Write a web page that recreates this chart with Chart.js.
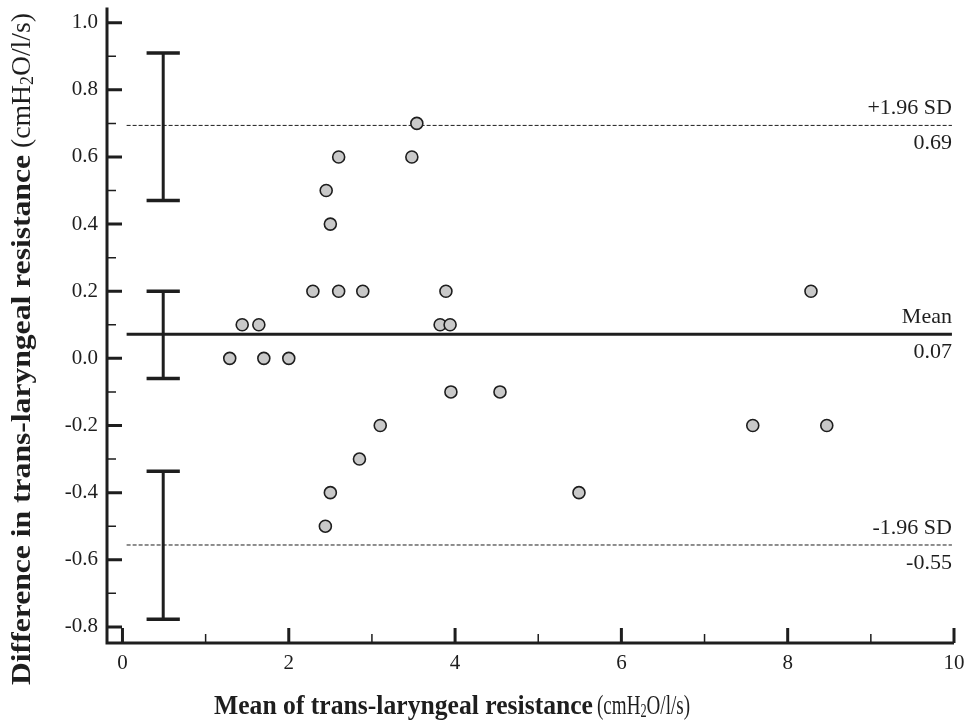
<!DOCTYPE html>
<html>
<head>
<meta charset="utf-8">
<script src="https://cdn.jsdelivr.net/npm/chart.js@4"></script>
<style>
  html, body { margin: 0; padding: 0; background: #fff; }
  #wrap { width: 969px; height: 721px; }
</style>
</head>
<body>
<div id="wrap"><canvas id="c" width="969" height="721"></canvas></div>
<script>
// ---- data ----
const meanX = [3.54, 2.60, 3.48, 2.45, 2.50, 2.29, 2.60, 2.89, 3.89, 1.44, 1.64, 3.82, 3.94,
               1.29, 1.70, 2.00, 3.95, 4.54, 3.10, 2.85, 2.50, 2.44, 5.49, 8.28, 7.58, 8.47];
const diffY = [0.70, 0.60, 0.60, 0.50, 0.40, 0.20, 0.20, 0.20, 0.20, 0.10, 0.10, 0.10, 0.10,
               0.00, 0.00, 0.00, -0.10, -0.10, -0.20, -0.30, -0.40, -0.50, -0.40, 0.20, -0.20, -0.20];

const xTicks = [0, 2, 4, 6, 8, 10];
const xMinorTicks = [1, 3, 5, 7, 9];
const yTicks = [-0.8, -0.6, -0.4, -0.2, 0.0, 0.2, 0.4, 0.6, 0.8, 1.0];
const yMinorTicks = [-0.7, -0.5, -0.3, -0.1, 0.1, 0.3, 0.5, 0.7, 0.9];

const biasValue = 0.072;
const upperLoA = 0.694;
const lowerLoA = -0.556;
const refLabels = { upper: ['+1.96 SD', '0.69'], mean: ['Mean', '0.07'], lower: ['-1.96 SD', '-0.55'] };

const ciX = 0.49;
const upperCI = [0.47, 0.91];
const meanCI = [-0.06, 0.20];
const lowerCI = [-0.777, -0.336];

const xRange = [-0.186, 10];
const yRange = [-0.848, 1.045];
const lineSpan = [0.05, 9.975];
const capHalf = 0.2;

const xTitleBold = 'Mean of trans-laryngeal resistance';
const yTitleBold = 'Difference in trans-laryngeal resistance';

// ---- build datasets ----
function ciStems() {
  const pts = [];
  [upperCI, meanCI, lowerCI].forEach(ci => {
    pts.push({x: ciX, y: ci[0]}, {x: ciX, y: ci[1]}, {x: ciX, y: null});
  });
  return pts;
}
function ciCaps() {
  const pts = [];
  [upperCI, meanCI, lowerCI].forEach(ci => {
    ci.forEach(v => pts.push({x: ciX - capHalf, y: v}, {x: ciX + capHalf, y: v}, {x: ciX, y: null}));
  });
  return pts;
}
const INK = '#1e1e1e';
const FONT = '"Liberation Serif", "Times New Roman", serif';

const axesPlugin = {
  id: 'axesPlugin',
  beforeDatasetsDraw(chart) {
    const {ctx, scales: {x, y}, chartArea: a} = chart;
    ctx.save();
    ctx.strokeStyle = INK;
    ctx.lineCap = 'butt';
    ctx.lineWidth = 3;
    ctx.beginPath();
    ctx.moveTo(a.left, a.top);
    ctx.lineTo(a.left, a.bottom + 1.5);
    ctx.moveTo(a.left - 1.5, a.bottom);
    ctx.lineTo(a.right, a.bottom);
    ctx.stroke();
    ctx.lineWidth = 3;
    ctx.beginPath();
    yTicks.forEach(v => { const p = y.getPixelForValue(v); ctx.moveTo(a.left, p); ctx.lineTo(a.left + 15, p); });
    xTicks.forEach(v => { const p = x.getPixelForValue(v); ctx.moveTo(p, a.bottom); ctx.lineTo(p, a.bottom - 15); });
    ctx.stroke();
    ctx.lineWidth = 1.5;
    ctx.beginPath();
    yMinorTicks.forEach(v => { const p = y.getPixelForValue(v); ctx.moveTo(a.left, p); ctx.lineTo(a.left + 9, p); });
    xMinorTicks.forEach(v => { const p = x.getPixelForValue(v); ctx.moveTo(p, a.bottom); ctx.lineTo(p, a.bottom - 9); });
    ctx.stroke();
    ctx.restore();
  },
  afterDraw(chart) {
    const {ctx, scales: {x, y}} = chart;
    ctx.save();
    ctx.fillStyle = INK;
    // reference line labels
    ctx.font = '22px ' + FONT;
    ctx.textAlign = 'right';
    ctx.textBaseline = 'middle';
    const rx = x.getPixelForValue(lineSpan[1]);
    [[upperLoA, refLabels.upper], [biasValue, refLabels.mean], [lowerLoA, refLabels.lower]].forEach(([v, l]) => {
      const p = y.getPixelForValue(v);
      ctx.fillText(l[0], rx, p - 17);
      ctx.fillText(l[1], rx, p + 18);
    });

    // axis titles: bold phrase + regular unit, each fitted to the reference's span
    function unitSegs() {
      return [
        {t: '(cmH', f: '28px ' + FONT, dy: 0},
        {t: '2', f: '18px ' + FONT, dy: 3},
        {t: 'O/l/s)', f: '28px ' + FONT, dy: 0}
      ];
    }
    function drawGroup(segs, startX, targetW) {
      let w = 0;
      segs.forEach(s => { ctx.font = s.f; s.w = ctx.measureText(s.t).width; w += s.w; });
      const sx = targetW / w;
      ctx.save();
      ctx.translate(startX, 0);
      ctx.scale(sx, 1);
      let px = 0;
      segs.forEach(s => { ctx.font = s.f; ctx.fillText(s.t, px, s.dy); px += s.w; });
      ctx.restore();
    }
    ctx.textAlign = 'left';
    ctx.textBaseline = 'alphabetic';
    // x title: bold 214..593, unit 597..690, baseline 714
    ctx.save();
    ctx.translate(0, 714);
    drawGroup([{t: xTitleBold, f: 'bold 28px ' + FONT, dy: 0}], 214, 379);
    drawGroup(unitSegs(), 597, 93);
    ctx.restore();
    // y title: rotated, bold from y=685 up to 155, unit from 150 up to 12, baseline x=30
    ctx.save();
    ctx.translate(30, 685);
    ctx.rotate(-Math.PI / 2);
    drawGroup([{t: yTitleBold, f: 'bold 28px ' + FONT, dy: 0}], 0, 530);
    drawGroup(unitSegs(), 537, 135);
    ctx.restore();
    ctx.restore();
  }
};

new Chart(document.getElementById('c'), {
  type: 'scatter',
  data: {
    datasets: [
      {
        label: 'Differences',
        data: meanX.map((v, i) => ({x: v, y: diffY[i]})),
        backgroundColor: '#c9c9c9',
        borderColor: INK,
        borderWidth: 1.6,
        pointRadius: 6,
        pointHoverRadius: 6,
        showLine: false
      },
      {
        label: 'Mean', type: 'line',
        data: lineSpan.map(v => ({x: v, y: biasValue})),
        borderColor: INK, borderWidth: 3, pointRadius: 0, fill: false
      },
      {
        label: '+1.96 SD', type: 'line',
        data: lineSpan.map(v => ({x: v, y: upperLoA})),
        borderColor: INK, borderWidth: 1, borderDash: [4, 2], pointRadius: 0, fill: false
      },
      {
        label: '-1.96 SD', type: 'line',
        data: lineSpan.map(v => ({x: v, y: lowerLoA})),
        borderColor: INK, borderWidth: 1, borderDash: [4, 2], pointRadius: 0, fill: false
      },
      {
        label: 'CI stems', type: 'line',
        data: ciStems(), spanGaps: false,
        borderColor: INK, borderWidth: 3, pointRadius: 0, fill: false
      },
      {
        label: 'CI caps', type: 'line',
        data: ciCaps(), spanGaps: false,
        borderColor: INK, borderWidth: 3.5, pointRadius: 0, fill: false
      }
    ]
  },
  options: {
    responsive: false,
    animation: false,
    events: [],
    layout: { padding: { top: 7, right: 15, left: 0, bottom: 0 } },
    plugins: { legend: { display: false }, tooltip: { enabled: false }, title: { display: false } },
    scales: {
      x: {
        type: 'linear', min: xRange[0], max: xRange[1],
        grid: { display: false }, border: { display: false },
        ticks: {
          font: { family: FONT, size: 21 }, color: INK, padding: 0,
          maxRotation: 0, autoSkip: false,
          callback: v => String(v)
        },
        afterBuildTicks: s => { s.ticks = xTicks.map(v => ({value: v})); },
        afterFit: s => { s.height = 78; s.paddingLeft = 0; s.paddingRight = 0; }
      },
      y: {
        type: 'linear', min: yRange[0], max: yRange[1],
        grid: { display: false }, border: { display: false },
        ticks: {
          font: { family: FONT, size: 21 }, color: INK, padding: 1,
          autoSkip: false,
          callback: v => Number(v).toFixed(1)
        },
        afterBuildTicks: s => { s.ticks = yTicks.map(v => ({value: v})); },
        afterFit: s => { s.width = 107; s.paddingTop = 0; s.paddingBottom = 0; }
      }
    }
  },
  plugins: [axesPlugin]
});
</script>
</body>
</html>
